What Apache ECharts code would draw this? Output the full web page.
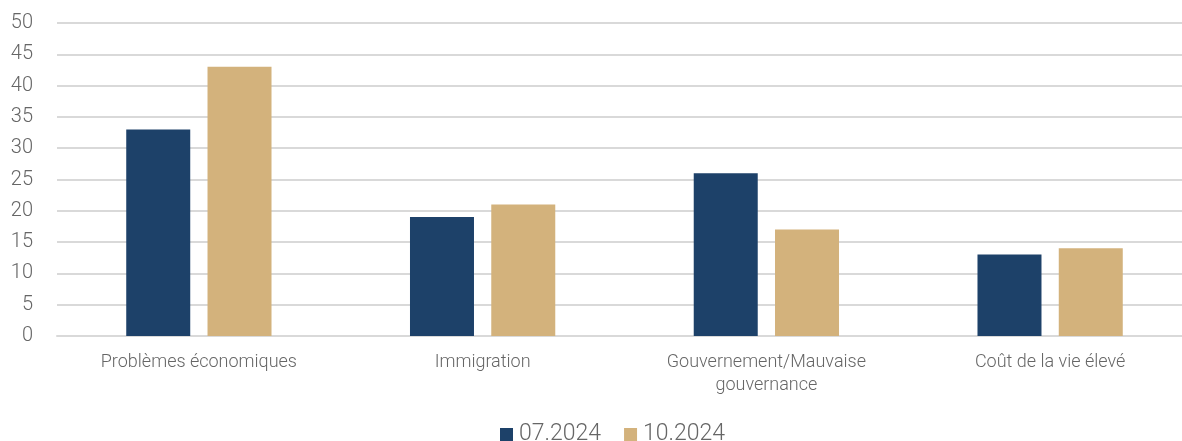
<!DOCTYPE html>
<html><head><meta charset="utf-8">
<script src="https://cdn.jsdelivr.net/npm/echarts@6/dist/echarts.min.js"></script>
<style>html,body{margin:0;padding:0;background:#fff;overflow:hidden}#c{width:1182px;height:441px}</style>
</head><body><div id="c"></div>
<script>
const categories = ['Problèmes économiques', 'Immigration', 'Gouvernement/Mauvaise\ngouvernance', 'Coût de la vie élevé'];
const seriesNames = ['07.2024', '10.2024'];
const values0724 = [33, 19, 26, 13];
const values1024 = [43, 21, 17, 14];
const colors = ['#1d4169', '#d3b27c'];
const chart = echarts.init(document.getElementById('c'));
chart.setOption({
  animation: false,
  textStyle: { fontFamily: 'Roboto' },
  grid: { left: 57, width: 1135, top: 23, bottom: 105, containLabel: false, outerBoundsMode: 'none' },
  legend: {
    data: seriesNames, top: 423, left: 500, padding: 0, itemWidth: 13, itemHeight: 13, itemGap: 23,
    icon: 'rect',
    textStyle: { fontSize: 23, color: '#666', fontFamily: 'Roboto', fontWeight: 300, padding: [0, 0, 0, 1] }
  },
  xAxis: {
    type: 'category', data: categories,
    axisLine: { show: true, lineStyle: { color: '#d9d9d9', width: 2 } },
    axisTick: { show: false },
    axisLabel: { fontSize: 18, color: '#666', margin: 15, lineHeight: 23, interval: 0, fontWeight: 300 }
  },
  yAxis: {
    type: 'value', min: 0, max: 50, interval: 5,
    axisLine: { show: false }, axisTick: { show: false },
    splitLine: { lineStyle: { color: '#d9d9d9', width: 2 } },
    axisLabel: { fontSize: 20, color: '#666', margin: 24, fontWeight: 300 }
  },
  series: [
    { name: seriesNames[0], type: 'bar', data: values0724, itemStyle: { color: colors[0] }, barWidth: 64, barGap: '27%' },
    { name: seriesNames[1], type: 'bar', data: values1024, itemStyle: { color: colors[1] }, barWidth: 64 }
  ]
});
</script></body></html>
